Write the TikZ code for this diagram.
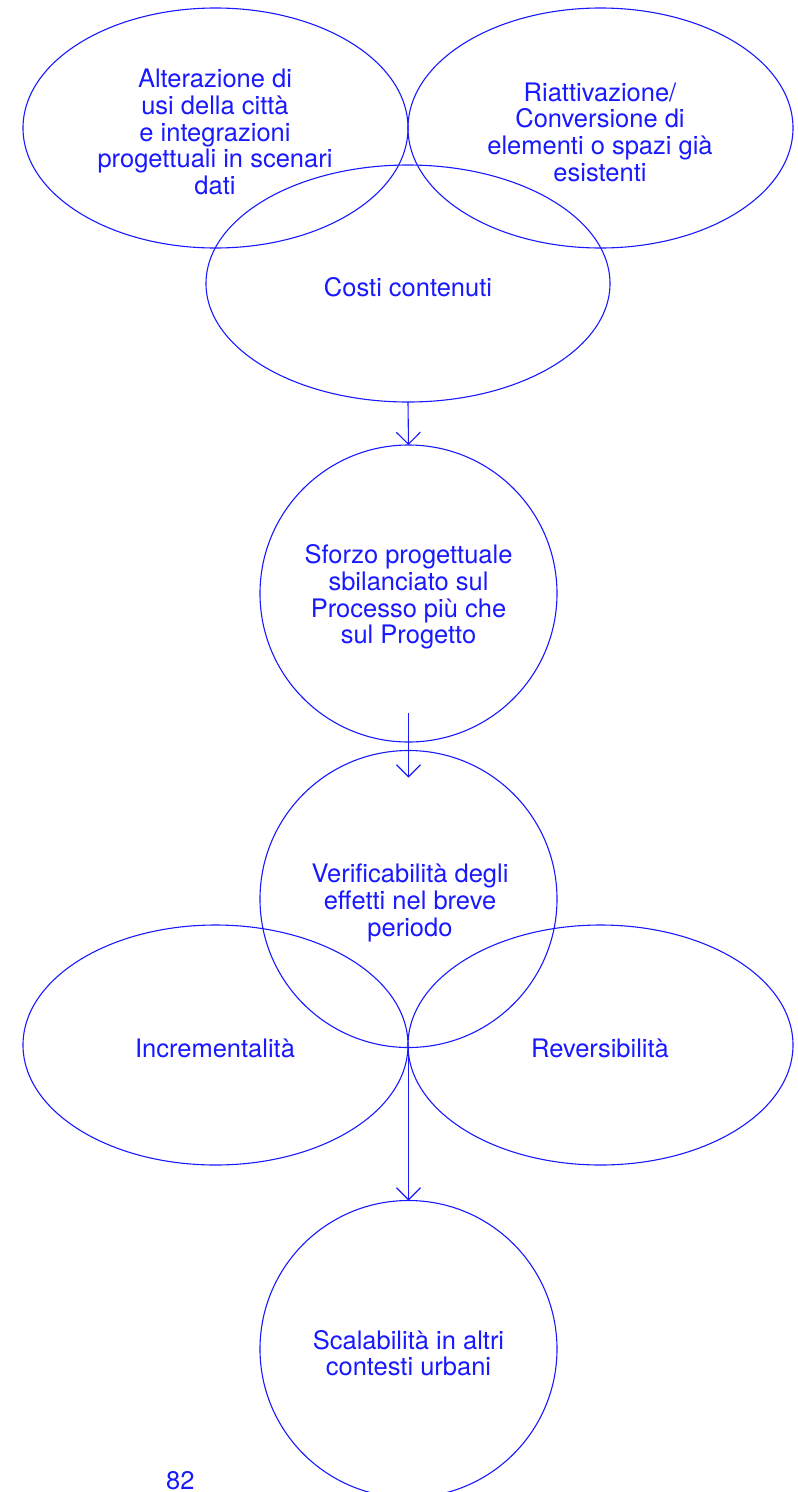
\documentclass[tikz,border=0pt]{standalone}
\usepackage{fontspec}
\setmainfont{TeX Gyre Heros}
\usetikzlibrary{shapes.geometric,arrows.meta,calc}
\definecolor{bl}{RGB}{25,25,255}
\begin{document}
\begin{tikzpicture}[x=1pt,y=-1pt,
  shp/.style={draw=bl,line width=1.1pt,inner sep=0pt,outer sep=0pt},
  ell/.style={shp,ellipse},
  circ/.style={shp,circle,minimum size=297pt},
  txt/.style={text=bl,font=\fontsize{25.5}{26.7}\selectfont,align=center,inner sep=0pt},
  arr/.style={draw=bl,line width=1.1pt,-{Straight Barb[length=12pt,width=24pt]}}]
\useasboundingbox (0,0) rectangle (798,1492);
% top group
\node[ell,minimum width=385pt,minimum height=240pt] (e1) at (215.5,128) {};
\node[ell,minimum width=385pt,minimum height=240pt] (e2) at (600.5,128) {};
\node[ell,minimum width=404pt,minimum height=237pt] (e3) at (408,283.5) {};
\node[txt] (t1) at (215,132) {Alterazione di\\usi della città\\e integrazioni\\progettuali in scenari\\dati};
\node[txt] (t2) at (600,132) {Riattivazione/\\Conversione di\\elementi o spazi già\\esistenti};
\node[txt] (t3) at (408,287) {Costi contenuti};
% circles
\node[circ] (c1) at (408.5,593.5) {};
\node[txt] (t4) at (408.5,597) {Sforzo progettuale\\sbilanciato sul\\Processo più che\\sul Progetto};
\node[circ] (c2) at (408.5,899) {};
\node[txt] (t5) at (410,903) {Verificabilità degli\\effetti nel breve\\periodo};
\node[ell,minimum width=385pt,minimum height=240pt] (e4) at (215.5,1045) {};
\node[ell,minimum width=385pt,minimum height=240pt] (e5) at (600.5,1045) {};
\node[txt] (t6) at (215,1048) {Incrementalità};
\node[txt] (t7) at (600,1048) {Reversibilità};
\node[circ] (c3) at (408.5,1349) {};
\node[txt] (t8) at (408.5,1353) {Scalabilità in altri\\contesti urbani};
\node[txt,anchor=west] (pg) at (166,1481) {82};
% arrows
\coordinate (a2s) at ($(c1.south)+(0,-29)$);
\coordinate (a2e) at ($(c2.north)+(0,27)$);
\draw[arr] (e3.south) -- (c1.north);
\draw[arr] (a2s) -- (a2e);
\draw[arr] (c2.south) -- (c3.north);
\end{tikzpicture}
\end{document}
